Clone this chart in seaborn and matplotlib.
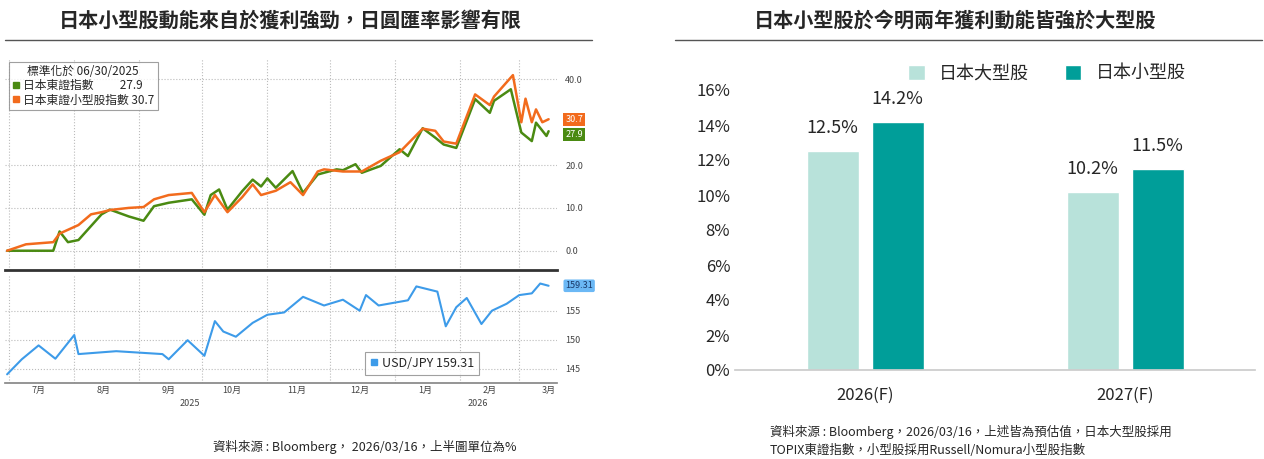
import numpy as np
import pandas as pd
import seaborn as sns
import matplotlib.pyplot as plt
from matplotlib.lines import Line2D

sns.set_theme(style="white")
plt.rcParams['font.family'] = ['Noto Sans CJK TC', 'DejaVu Sans']

# left panel data (days since 2025-06-30)
topix_days = [0, 22, 25, 29, 34, 45, 49, 58, 65, 70, 77, 88, 94, 97, 101, 105, 112, 117, 121, 124, 128,
              136, 141, 148, 151, 157, 160, 166, 169, 178, 187, 191, 198, 204, 208, 214, 223, 230, 232,
              240, 245, 250, 252, 257, 258]
topix = [0, 0, 4.5, 2, 2.5, 8.5, 9.6, 8, 7, 10.4, 11.2, 12, 8.4, 13, 14.3, 9.6, 13.9, 16.6, 15, 16.9, 14.7,
         18.6, 13.5, 17.8, 18.2, 19, 18.8, 20.2, 18.2, 19.8, 23.7, 22.1, 28.6, 26.4, 24.8, 24, 35.4, 32.2, 35,
         37.7, 27.6, 25.6, 29.9, 26.8, 27.9]
small_days = [0, 9, 22, 25, 34, 40, 45, 49, 58, 65, 70, 77, 88, 94, 99, 105, 112, 117, 121, 128, 135,
              141, 148, 151, 160, 169, 178, 187, 198, 204, 208, 214, 223, 230, 232, 241, 245, 247, 250,
              252, 255, 258]
small = [0, 1.5, 2, 4, 6, 8.5, 9, 9.5, 10, 10.2, 12, 13, 13.5, 9, 13, 9, 12.5, 15.5, 13, 14, 16,
         13, 18.5, 19, 18.5, 18.5, 21, 23, 28.5, 28, 25.5, 25, 36.5, 34, 36, 41, 30, 35.5, 30,
         33, 30, 30.7]
fx_days = [0, 7, 15, 23, 32, 34, 52, 74, 77, 86, 94, 99, 103, 109, 117, 124, 132, 141, 151, 160, 168,
           171, 177, 191, 195, 205, 209, 214, 219, 226, 231, 238, 244, 250, 254, 258]
usdjpy = [144, 146.6, 149, 146.7, 150.8, 147.5, 148, 147.5, 146.6, 149.9, 147.2, 153.2, 151.4, 150.5,
          152.9, 154.3, 154.7, 157.4, 155.9, 156.9, 155, 157.7, 155.9, 156.8, 159.2, 158.3, 152.3, 155.6,
          157.2, 152.7, 155, 156.2, 157.7, 158, 159.7, 159.31]

# right panel data
years = ['2026(F)', '2027(F)']
large_cap = [12.5, 10.2]
small_cap = [14.2, 11.5]

start = pd.Timestamp('2025-06-30')
to_dates = lambda d: start + pd.to_timedelta(d, unit='D')
df_t = pd.DataFrame({'date': to_dates(topix_days), 'v': topix})
df_s = pd.DataFrame({'date': to_dates(small_days), 'v': small})
df_fx = pd.DataFrame({'date': to_dates(fx_days), 'v': usdjpy})

W, H = 1264, 459
fig = plt.figure(figsize=(W / 100, H / 100), dpi=100)

def box(l, t, r, b):
    return [l / W, 1 - b / H, (r - l) / W, (b - t) / H]

# titles and rules
fig.text(290 / W, 1 - 20 / H, '日本小型股動能來自於獲利強勁，日圓匯率影響有限', ha='center', va='center',
         fontsize=14.5, fontweight='bold')
fig.text(955 / W, 1 - 20 / H, '日本小型股於今明兩年獲利動能皆強於大型股', ha='center', va='center',
         fontsize=14.5, fontweight='bold')
fig.add_artist(plt.Line2D([5 / W, 592 / W], [1 - 40 / H] * 2, color='#555555', lw=1))
fig.add_artist(plt.Line2D([675 / W, 1262 / W], [1 - 40 / H] * 2, color='#555555', lw=1))

green, orange, blue = '#4a8a12', '#f26b1d', '#3d9be9'
xlim = (start - pd.Timedelta(days=1), start + pd.Timedelta(days=262))
month_starts = pd.date_range('2025-07-01', '2026-03-01', freq='MS')

# top line panel
ax1 = fig.add_axes(box(5, 58, 557, 270))
sns.lineplot(data=df_t, x='date', y='v', color=green, lw=1.8, ax=ax1)
sns.lineplot(data=df_s, x='date', y='v', color=orange, lw=1.8, ax=ax1)
ax1.set_xlim(xlim)
ax1.set_ylim(-4.5, 45)
ax1.yaxis.tick_right()
ax1.set_yticks([0, 10, 20, 40])
ax1.set_yticklabels(['0.0', '10.0', '20.0', '40.0'], fontsize=6.5, color='#444444')
ax1.tick_params(axis='y', length=0, pad=6)
ax1.set_xticks(month_starts)
ax1.set_xticklabels([])
ax1.tick_params(axis='x', length=0)
ax1.grid(True, ls=':', color='#bbbbbb', lw=0.8)
ax1.set_xlabel('')
ax1.set_ylabel('')
for s in ax1.spines.values():
    s.set_visible(False)
ax1.spines['bottom'].set_visible(True)
ax1.spines['bottom'].set_color('#333333')
ax1.spines['bottom'].set_linewidth(2)
handles = [Line2D([], [], marker='s', ls='', color=green, markersize=5),
           Line2D([], [], marker='s', ls='', color=orange, markersize=5)]
leg = ax1.legend(handles, ['日本東證指數          27.9', '日本東證小型股指數 30.7'],
                 title='標準化於 06/30/2025', loc='upper left', fontsize=8.5, title_fontsize=8.5,
                 frameon=True, fancybox=False, edgecolor='#888888', handlelength=0.6,
                 handletextpad=0.3, borderpad=0.3, labelspacing=0.1, borderaxespad=0.3)
leg.get_frame().set_linewidth(0.8)
ax1.text(1.015, 30.7, '30.7', transform=ax1.get_yaxis_transform(), va='center', fontsize=6.5,
         color='white', bbox=dict(facecolor=orange, edgecolor='none', pad=1.5))
ax1.text(1.015, 27.2, '27.9', transform=ax1.get_yaxis_transform(), va='center', fontsize=6.5,
         color='white', bbox=dict(facecolor=green, edgecolor='none', pad=1.5))

# bottom fx panel
ax2 = fig.add_axes(box(5, 276, 557, 383))
sns.lineplot(data=df_fx, x='date', y='v', color=blue, lw=1.5, ax=ax2)
ax2.set_xlim(xlim)
ax2.set_ylim(142.5, 161)
ax2.yaxis.tick_right()
ax2.set_yticks([145, 150, 155])
ax2.tick_params(axis='y', length=0, pad=6, labelsize=6.5, labelcolor='#444444')
ax2.set_xticks(month_starts)
ax2.set_xticklabels([])
ax2.set_xticks(pd.date_range('2025-07-15', '2026-03-15', freq='SMS')[::2], minor=True)
ax2.set_xticklabels([f'{m}月' for m in [7, 8, 9, 10, 11, 12, 1, 2, 3]], minor=True, fontsize=6.5,
                    color='#444444')
ax2.tick_params(axis='x', which='both', length=0, pad=2)
ax2.grid(True, ls=':', color='#bbbbbb', lw=0.8)
ax2.set_xlabel('')
ax2.set_ylabel('')
for s in ax2.spines.values():
    s.set_visible(False)
ax2.spines['bottom'].set_visible(True)
ax2.spines['bottom'].set_color('#888888')
ax2.text(1.015, 159.31, '159.31', transform=ax2.get_yaxis_transform(), va='center', fontsize=6.5,
         color='#1a3a6a', bbox=dict(facecolor='#6bb8f5', edgecolor='none', boxstyle='round,pad=0.2'))
leg2 = ax2.legend([Line2D([], [], marker='s', ls='', color=blue, markersize=5)], ['USD/JPY 159.31'],
                  loc='lower right', bbox_to_anchor=(0.87, 0.02), fontsize=9, frameon=True,
                  fancybox=False, edgecolor='#888888', handlelength=0.6, handletextpad=0.3)
leg2.get_frame().set_linewidth(0.8)
fig.text(190 / W, 1 - 403 / H, '2025', fontsize=6.5, ha='center', va='center', color='#444444')
fig.text(478 / W, 1 - 403 / H, '2026', fontsize=6.5, ha='center', va='center', color='#444444')
fig.text(365 / W, 1 - 447 / H, '資料來源 : Bloomberg， 2026/03/16，上半圖單位為%', ha='center',
         va='center', fontsize=9)

# right bar chart
bar_df = pd.DataFrame({'year': years * 2, 'val': large_cap + small_cap,
                       'grp': ['日本大型股'] * 2 + ['日本小型股'] * 2})
ax3 = fig.add_axes(box(735, 90, 1255, 370))
sns.barplot(data=bar_df, x='year', y='val', hue='grp', palette=['#b8e2da', '#009e99'],
            saturation=1, width=0.5, gap=0.2, ax=ax3)
ax3.set_ylim(0, 16)
ax3.set_yticks(range(0, 17, 2))
ax3.set_yticklabels([f'{v}%' for v in range(0, 17, 2)], fontsize=12)
ax3.tick_params(axis='x', labelsize=12, length=0, pad=12)
for t in ax3.get_xticklabels():
    t.set_fontweight('medium')
ax3.tick_params(axis='y', length=0)
for c in ax3.containers:
    ax3.bar_label(c, fmt='%.1f%%', fontsize=13, padding=10)
for s in ['top', 'right', 'left']:
    ax3.spines[s].set_visible(False)
ax3.spines['bottom'].set_color('#cccccc')
ax3.set_xlabel('')
ax3.set_ylabel('')
ax3.legend(loc='upper center', bbox_to_anchor=(0.6, 1.15), ncol=2, frameon=False, fontsize=13,
           handlelength=0.9, handleheight=0.9, columnspacing=2.0)
fig.text(770 / W, 1 - 432 / H, '資料來源 : Bloomberg，2026/03/16，上述皆為預估值，日本大型股採用',
         fontsize=9, va='center')
fig.text(770 / W, 1 - 450 / H, 'TOPIX東證指數，小型股採用Russell/Nomura小型股指數',
         fontsize=9, va='center')

fig.savefig('out.png', dpi=100)
